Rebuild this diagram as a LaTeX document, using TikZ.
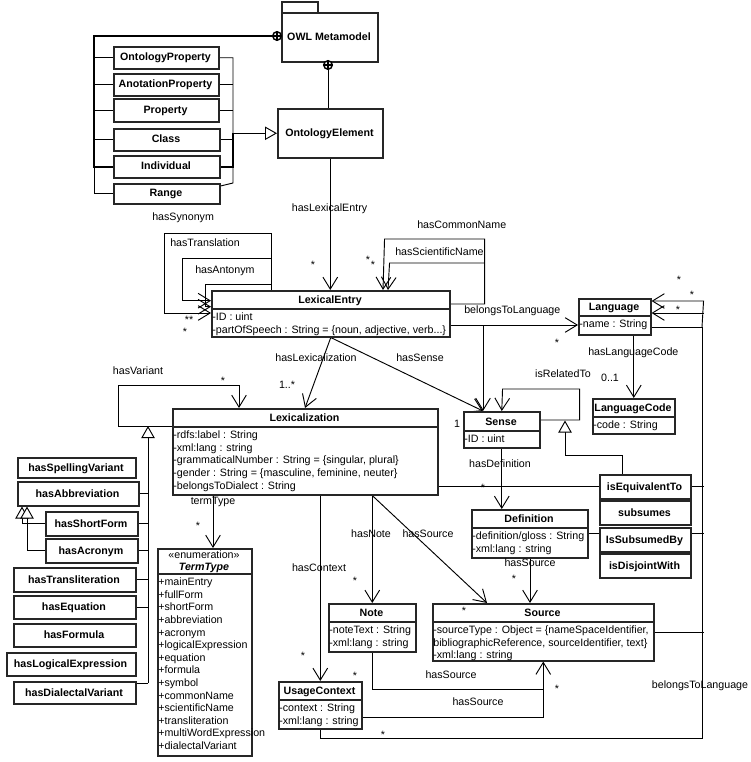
\documentclass[tikz,border=0pt]{standalone}
\usepackage{fontspec}
\setmainfont{Liberation Sans}
\usetikzlibrary{arrows.meta,calc}
\pgfdeclarelayer{bg}
\pgfsetlayers{bg,main}
\newdimen\ux \ux=0.75pt
\tikzset{
  box/.style={draw=black!85, line width=1.15pt, fill=white, inner sep=0pt},
  hline/.style={draw=black!85, line width=0.8pt},
  ttl/.style={font=\bfseries\fontsize{8}{9.45}\selectfont, inner sep=0pt, anchor=base},
  att/.style={font=\fontsize{8}{9.45}\selectfont, align=left, inner xsep=0.8pt, inner ysep=0pt, anchor=north west},
  lbl/.style={font=\fontsize{8}{9.45}\selectfont, inner sep=0pt, anchor=base},
  lblw/.style={lbl, anchor=base west},
  conn/.style={draw=black, line width=0.7pt},
  nav/.style={conn, -{Straight Barb[length=9pt,width=11pt]}},
  gen/.style={conn, -{Triangle[open,length=9pt,width=10pt,fill=white]}},
  opl/.style={circle, draw=black, line width=1.1pt, fill=white, inner sep=0pt, minimum size={8.5*\ux}},
}
\newcommand{\ubox}[6]{%
  \node[box, anchor=north west, minimum width={(#4-#2)*\ux}, minimum height={(#5-#3)*\ux}] (#1) at (#2,#3) {};
  \node[ttl] (#1-t) at ({(#2+#4)/2},{(#3+#5)/2+4}) {#6};}
\newcommand{\uclass}[8]{%
  \node[box, anchor=north west, minimum width={(#4-#2)*\ux}, minimum height={(#5-#3)*\ux}] (#1) at (#2,#3) {};
  \draw[hline] (#2,#6) -- (#4,#6);
  \node[ttl] (#1-t) at ({(#2+#4)/2},{#6-5.5}) {#7};
  \node[att] (#1-a) at (#2,#6) {\rule{0pt}{8.6pt}#8};}
\begin{document}
\begin{tikzpicture}[x=0.75pt,y=-0.75pt]
\useasboundingbox (0,0) rectangle (750,762);
% ---------- top: OWL metamodel ----------
\node[box, anchor=north west, minimum width={36*\ux}, minimum height={11*\ux}] (owltab) at (281,1) {};
\ubox{owl}{281}{12}{377}{61}{OWL Metamodel}
\node[opl] (c1) at (277,36) {};
\draw[line width=0.9pt] (c1.north) -- (c1.south) (c1.west) -- (c1.east);
\node[opl] (c2) at (328,65) {};
\draw[line width=0.9pt] (c2.north) -- (c2.south) (c2.west) -- (c2.east);
\ubox{onel}{277}{108}{382}{157}{OntologyElement}
\ubox{op}{113}{46}{218}{68}{OntologyProperty}
\ubox{ap}{113}{73}{218}{95}{AnotationProperty}
\ubox{prop}{113}{98}{218}{121}{Property}
\ubox{cls}{113}{128}{219}{150}{Class}
\ubox{ind}{113}{155}{219}{177}{Individual}
\ubox{rng}{113}{183}{219}{203}{Range}
% ---------- classes ----------
\uclass{le}{211}{290}{449}{336}{309}{LexicalEntry}{-ID : uint\\-partOfSpeech : String = \{noun, adjective, verb...\}}
\uclass{lang}{578}{298}{650}{334}{316}{Language}{-name : String}
\uclass{lc}{592}{398}{674}{433}{417}{LanguageCode}{-code : String}
\uclass{sense}{463}{411}{539}{447}{431}{Sense}{-ID : uint}
\uclass{lex}{172}{408}{437}{494}{427}{Lexicalization}{-rdfs:label : String\\-xml:lang : string\\-grammaticalNumber : String = \{singular, plural\}\\-gender : String = \{masculine, feminine, neuter\}\\-belongsToDialect : String}
\uclass{def}{471}{509}{587}{557}{528}{Definition}{-definition/gloss : String\\-xml:lang : string}
\uclass{src}{432}{603}{653}{660}{622}{Source}{-sourceType : Object = \{nameSpaceIdentifier,\\bibliographicReference, sourceIdentifier, text\}\\-xml:lang : string}
\uclass{note}{328}{603}{415}{651}{622}{Note}{-noteText : String\\-xml:lang : string}
\uclass{uc}{278}{681}{361}{728}{700}{UsageContext}{-context : String\\-xml:lang : string}
% TermType enumeration
\node[box, anchor=north west, minimum width={94*\ux}, minimum height={207*\ux}] (tt) at (157,548) {};
\draw[hline] (157,574) -- (251,574);
\node[lbl] (tt-s) at (204,558) {«enumeration»};
\node[ttl] (tt-t) at (204,570) {\itshape TermType};
\node[att] (tt-a) at (157,574) {\rule{0pt}{8.6pt}+mainEntry\\+fullForm\\+shortForm\\+abbreviation\\+acronym\\+logicalExpression\\+equation\\+formula\\+symbol\\+commonName\\+scientificName\\+transliteration\\+multiWordExpression\\+dialectalVariant};
% ---------- right relation boxes ----------
\ubox{eq}{599}{474}{690}{498}{isEquivalentTo}
\ubox{sub}{599}{500}{690}{524}{subsumes}
\ubox{isb}{599}{527}{690}{551}{IsSubsumedBy}
\ubox{dis}{599}{553}{690}{577}{isDisjointWith}
% ---------- left variant boxes ----------
\ubox{hsv}{17}{457}{135}{477}{hasSpellingVariant}
\ubox{hab}{17}{481}{138}{505}{hasAbbreviation}
\ubox{hsf}{45}{511}{137}{535}{hasShortForm}
\ubox{hac}{45}{538}{137}{562}{hasAcronym}
\ubox{htr}{13}{567}{135}{591}{hasTransliteration}
\ubox{heq}{13}{595}{135}{618}{hasEquation}
\ubox{hfo}{13}{623}{135}{646}{hasFormula}
\ubox{hle}{6}{652}{135}{675}{hasLogicalExpression}
\ubox{hdv}{13}{681}{135}{703}{hasDialectalVariant}
% ---------- coordinates ----------
\coordinate (lj) at (94,36);
\coordinate (rj) at (233,133);
\coordinate (bj) at (483,325);
\coordinate (rv) at (702,327);
\coordinate (rb) at (702,738);
\coordinate (sj) at (543,689);
\coordinate (vj) at (148,683);
\coordinate (vt) at (148,426);
\coordinate (gt) at (565,420.5);
% ---------- labels ----------
\node[lbl] (lLE) at (329.5,212) {hasLexicalEntry};
\node[lblw] (lSyn) at (152,221) {hasSynonym};
\node[lblw] (lTr) at (170,247) {hasTranslation};
\node[lblw] (lAnt) at (195,274) {hasAntonym};
\node[lblw] (lCN) at (417,229) {hasCommonName};
\node[lblw] (lSN) at (395,256) {hasScientificName};
\node[lbl] (s1) at (313,269) {*};
\node[lbl] (s2) at (368,264) {*};
\node[lbl] (s3) at (373,269) {*};
\node[lbl] (s4) at (189,323) {**};
\node[lbl] (s5) at (185,335) {*};
\node[lblw] (lBL) at (464,314) {belongsToLanguage};
\node[lbl] (s6) at (557,346) {*};
\node[lbl] (s7) at (679,284) {*};
\node[lbl] (s8) at (692,299) {*};
\node[lbl] (s9) at (678,314) {*};
\node[lblw] (lLC) at (588,355) {hasLanguageCode};
\node[lbl] (l01) at (610,381) {0..1};
\node[lbl] (lHL) at (316,361) {hasLexicalization};
\node[lbl] (lHS) at (420,361) {hasSense};
\node[lbl] (l1s) at (287,388) {1..*};
\node[lbl] (lRel) at (563,377) {isRelatedTo};
\node[lbl] (lOne) at (457,427) {1};
\node[lbl] (lHV) at (138,374) {hasVariant};
\node[lbl] (s10) at (223,384) {*};
\node[lbl] (lHD) at (500,467) {hasDefinition};
\node[lbl] (s11) at (483,491) {*};
\node[lbl] (lTT) at (213,504) {termType};
\node[lbl] (s12) at (198,529) {*};
\node[lbl] (lHN) at (371,537) {hasNote};
\node[lbl] (lHSa) at (428,537) {hasSource};
\node[lbl] (lHC) at (319,571) {hasContext};
\node[lbl] (lHSb) at (530,566) {hasSource};
\node[lbl] (s13) at (514,582) {*};
\node[lbl] (s14) at (355,584) {*};
\node[lbl] (s15) at (464,614) {*};
\node[lbl] (s16) at (303,659) {*};
\node[lbl] (lHSc) at (451,678) {hasSource};
\node[lbl] (s17) at (557,692) {*};
\node[lbl] (s18) at (355,679) {*};
\node[lbl] (lHSd) at (478,705) {hasSource};
\node[lbl] (s19) at (383,738) {*};
\node[lbl] (lBL2) at (700,688) {belongsToLanguage};
% ---------- connectors ----------
\begin{pgfonlayer}{bg}
% composition from OWL Metamodel
\draw[conn, line width=1.6pt] (c1.west) -- (lj) -- (lj |- ind.west) -- (ind.west);
\draw[conn] (lj |- op.west) -- (op.west);
\draw[conn] (lj |- ap.west) -- (ap.west);
\draw[conn] (lj |- prop.west) -- (prop.west);
\draw[conn] (lj |- cls.west) -- (cls.west);
\draw[conn] (lj |- ind.west) -- (lj |- rng.west) -- (rng.west);
\draw[conn] (c2.south) -- (c2.south |- onel.north);
% generalization to OntologyElement
\draw[conn] (op.east) -- (rj |- op.east) -- (rj |- rng.north) -- ($(rng.north east)+(0,3)$);
\draw[conn] (ap.east) -- (rj |- ap.east);
\draw[conn] (prop.east) -- (rj |- prop.east);
\draw[conn] (cls.east) -- (rj |- cls.east);
\draw[conn, line width=1.2pt] (ind.east) -- (rj |- ind.east) -- (rj);
\draw[gen] (rj |- onel.west) -- (onel.west);
% hasLexicalEntry
\draw[nav] (onel.south) -- (onel.south |- le.north);
% left self associations of LexicalEntry
\draw[nav] ($(le.north west)+(60,0)$) -- ++(0,-57) -- ++(-107,0) -- ++(0,80) -- ($(le.north west)+(0,23)$);
\draw[nav] ($(le.north west)+(60,-32)$) -- ++(-89,0) -- ++(0,42.7) -- ($(le.north west)+(0,10.7)$);
\draw[nav] ($(le.north west)+(60,-6)$) -- ++(-66,0) -- ++(0,22.7) -- ($(le.north west)+(0,16.7)$);
% right self associations
\draw[nav] ($(le.north east)+(0,14)$) -- ++(34,0) -- ++(0,-65) -- ++(-100,0) -- ($(le.north west)+(172,0)$);
\draw[nav] ($(le.north east)+(34,-27)$) -- ++(-95,0) -- ($(le.north west)+(177,0)$);
% belongsToLanguage
\draw[nav] ($(le.north east)+(0,35)$) -- ($(lang.north west)+(0,27)$);
\draw[nav] (bj) -- (bj |- sense.north);
% hasLexicalization, hasSense
\draw[nav] (le.south) -- ($(lex.north west)+(133,0)$);
\draw[nav] (le.south) -- (bj |- sense.north);
% Language right side
\draw[nav] (rv) -- ($(lang.north east)+(52,3)$) -- ($(lang.north east)+(0,3)$);
\draw[nav] ($(lang.north east)+(52,15)$) -- ($(lang.north east)+(0,15)$);
\draw[conn] ($(lang.north east)+(0,29)$) -- (rv) -- (rb) -- (rb -| uc.south) -- (uc.south);
\draw[conn] ($(lex.south east)+(0,-9)$) -- ($(lex.south east)+(265,-9)$);
\draw[conn] ($(def.north east)+(0,24)$) -- ($(def.north east)+(115,24)$);
\draw[conn] ($(src.north east)+(0,29)$) -- ($(src.north east)+(49,29)$);
% hasLanguageCode
\draw[nav] (lc.north |- lang.south) -- (lc.north);
% isRelatedTo
\draw[nav] ($(sense.north east)+(0,9)$) -- ++(39,0) -- ++(0,-31) -- ++(-77,0) -- (sense.north);
\draw[gen] ($(eq.north west)+(23,0)$) -- ++(0,-19) -- ++(-57,0) -- (gt);
% hasDefinition
\draw[nav] (sense.south) -- (sense.south |- def.north);
% hasSource from Definition
\draw[nav] ($(def.south west)+(59,0)$) -- ($(src.north west)+(98,0)$);
% hasVariant
\draw[nav] ($(lex.north west)+(0,18)$) -- ++(-54,0) -- ++(0,-41) -- ++(121,0) -- ($(lex.north west)+(67,0)$);
\draw[gen] (vj) -- (vt);
\draw[conn] (hab.east) -- (vj |- hab.east);
\draw[conn] (hsf.east) -- (vj |- hsf.east);
\draw[conn] (hac.east) -- (vj |- hac.east);
\draw[conn] (htr.east) -- (vj |- htr.east);
\draw[conn] (heq.east) -- (vj |- heq.east);
\draw[conn] ($(hdv.north east)+(0,2)$) -- (vj);
\draw[gen] (hsf.west) -- ($(hsf.west)+(-23,0)$) -- ($(hab.south west)+(5,0)$);
\draw[gen] (hac.west) -- ($(hac.west)+(-18,0)$) -- ($(hab.south west)+(10,0)$);
% termType
\draw[nav] ($(lex.south west)+(41,0)$) -- ($(tt.north west)+(56,0)$);
% hasContext, hasNote, hasSource
\draw[nav] (uc.north |- lex.south) -- (uc.north);
\draw[nav] (note.north |- lex.south) -- (note.north);
\draw[nav] (note.north |- lex.south) -- ($(src.north west)+(55,0)$);
\draw[nav] (note.south) -- (note.south |- sj) -- (src.south |- sj) -- (src.south);
\draw[conn] ($(uc.north east)+(0,36)$) -| (src.south |- sj);
\end{pgfonlayer}
\end{tikzpicture}
\end{document}
